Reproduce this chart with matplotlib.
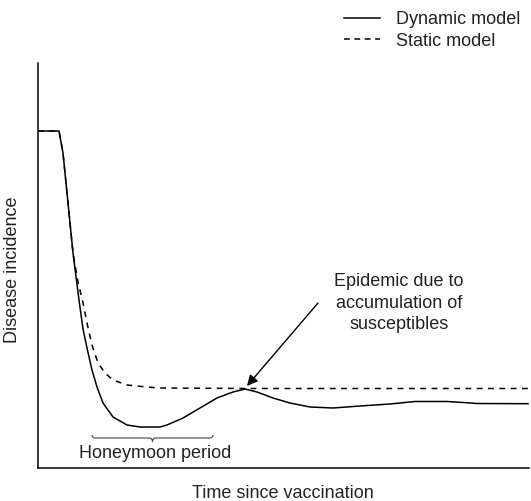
import matplotlib
matplotlib.use("Agg")
import matplotlib.pyplot as plt
from matplotlib.path import Path
from matplotlib.patches import PathPatch
from matplotlib.lines import Line2D

plt.rcParams['font.family'] = ['Liberation Sans', 'DejaVu Sans']

# Data (arbitrary units: time since vaccination, disease incidence)
dyn_t = [0, 21, 25, 30, 35, 41, 45, 49, 54, 59, 65, 75, 89, 102, 112, 122, 129,
         145, 162, 179, 195, 207, 219, 235, 252, 272, 295, 322, 352, 377, 409,
         425, 439, 490]
dyn_y = [337, 337, 315, 265, 215, 168, 139, 120, 98, 81, 65, 51, 43, 41, 41, 41, 43,
         50, 60, 70, 76, 79, 76, 70, 65, 61, 60, 62, 64, 66.5, 66.5,
         65.5, 64.5, 64.3]

sta_t = [0, 21, 25, 30, 35, 40, 45, 49, 54, 60, 67, 75, 89, 109, 122, 212, 490]
sta_y = [337, 337, 315, 265, 215, 186, 165, 145, 123, 105, 95, 88, 83, 81, 80, 79.5, 79.5]

series_labels = ["Dynamic model", "Static model"]
x_label = "Time since vaccination"
y_label = "Disease incidence"
epidemic_label = "Epidemic due to\naccumulation of\nsusceptibles"
epidemic_peak = (207, 80)
honeymoon_label = "Honeymoon period"
honeymoon_range = (54, 175)

W, H = 531, 501
fig = plt.figure(figsize=(W / 100, H / 100), dpi=100)
ax = fig.add_axes([38 / W, 1 - 468 / H, (529 - 38) / W, (468 - 63) / H])
ax.set_xlim(0, 491)
ax.set_ylim(0, 405)

lw = 1.1
ax.plot(dyn_t, dyn_y, color='black', lw=lw, solid_joinstyle='round')
ax.plot(sta_t, sta_y, color='black', lw=lw, linestyle=(0, (3.8, 3.6)))

for s in ['top', 'right']:
    ax.spines[s].set_visible(False)
for s in ['left', 'bottom']:
    ax.spines[s].set_linewidth(1.1)
ax.set_xticks([])
ax.set_yticks([])

fs = 13
# Annotation arrow and text
ax.annotate('', xy=(epidemic_peak[0] + 2, epidemic_peak[1] + 2), xytext=(280, 165),
            arrowprops=dict(arrowstyle='-|>', color='black', lw=1.0,
                            mutation_scale=16, shrinkA=0, shrinkB=0))
ax.text(361, 165, epidemic_label, ha='center', va='center', fontsize=fs,
        color='#222222', linespacing=1.32)

# Honeymoon brace
x0, x1 = honeymoon_range
xm = (x0 + x1) / 2
yb = 30
verts = [(x0, yb + 3), (x0, yb), (x0 + 3, yb),
         (xm - 3, yb),
         (xm, yb), (xm, yb - 4),
         (xm, yb), (xm + 3, yb),
         (x1 - 3, yb),
         (x1, yb), (x1, yb + 3)]
codes = [Path.MOVETO, Path.CURVE3, Path.CURVE3,
         Path.LINETO,
         Path.CURVE3, Path.CURVE3,
         Path.CURVE3, Path.CURVE3,
         Path.LINETO,
         Path.CURVE3, Path.CURVE3]
ax.add_patch(PathPatch(Path(verts, codes), fill=False, lw=0.8, edgecolor='#444444'))
ax.text(xm + 3, 14, honeymoon_label, ha='center', va='center', fontsize=fs,
        color='#222222')

# Axis labels
fig.text(13 / W, 1 - 270 / H, y_label, rotation=90, ha='center', va='center',
         fontsize=fs, color='#222222')
fig.text(283 / W, 1 - 494 / H, x_label, ha='center', va='center',
         fontsize=fs, color='#222222')

# Legend
h1 = Line2D([], [], color='black', lw=lw)
h2 = Line2D([], [], color='black', lw=lw, linestyle=(0, (3.8, 3.0)))
leg = fig.legend([h1, h2], series_labels, loc='upper left',
                 bbox_to_anchor=(344 / W, 1 - 11 / H), frameon=False,
                 borderpad=0, borderaxespad=0, handlelength=2.0,
                 handletextpad=0.9, labelspacing=0.25, fontsize=fs)
for t in leg.get_texts():
    t.set_color('#222222')

fig.savefig('out.png', dpi=100)
